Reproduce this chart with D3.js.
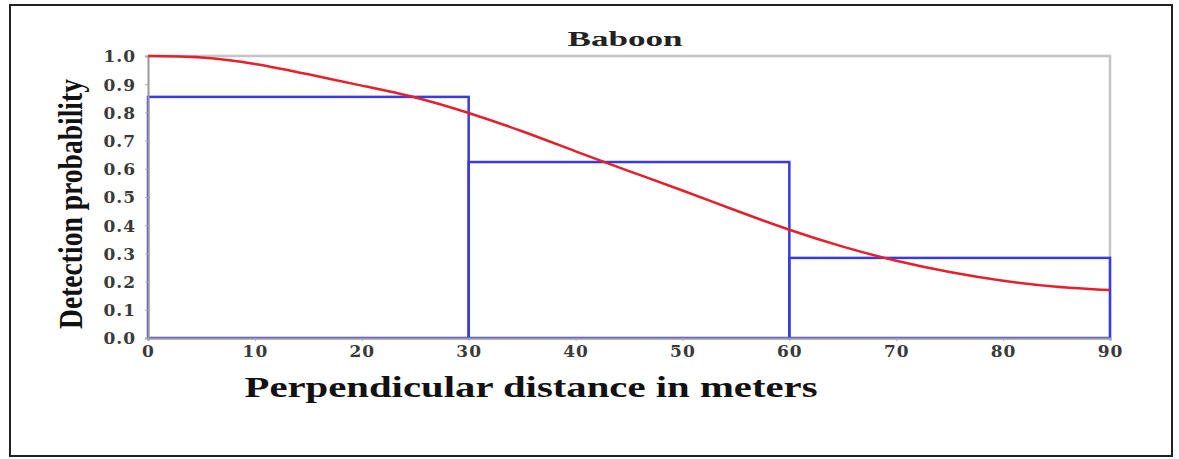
<!DOCTYPE html>
<html>
<head>
    <meta charset="utf-8">
    <style>
        body { margin: 0; background: white; }
        svg { display: block; font-family: "Liberation Serif", "DejaVu Serif", serif; }
        .axis text { font-family: "DejaVu Serif", serif; font-weight: bold; font-size: 17px; letter-spacing: 1px; fill: #3a3a3a; }
    </style>
</head>
<body>
    <svg width="1179" height="459"></svg>
<script src="https://d3js.org/d3.v7.min.js"></script>
<script>
    // histogram of detections (30 m bins)
    let binEdges = [0, 30, 60, 90];
    let binHeights = [0.855, 0.624, 0.284];

    // fitted detection function, read every 5 m
    let curveDist = [0, 5, 10, 15, 20, 25, 30, 35, 40, 45, 50, 55, 60, 65, 70, 75, 80, 85, 90];
    let curveProb = [1.0, 0.995, 0.972, 0.935, 0.895, 0.853, 0.798, 0.733, 0.662, 0.592, 0.523, 0.452, 0.384, 0.324, 0.274, 0.234, 0.203, 0.182, 0.17];

    let xTicks = [0, 10, 20, 30, 40, 50, 60, 70, 80, 90];
    let yTicks = [0, 0.1, 0.2, 0.3, 0.4, 0.5, 0.6, 0.7, 0.8, 0.9, 1.0];

    let plotLeft = 148, plotRight = 1110, plotTop = 56, plotBottom = 338;

    let svg = d3.select("svg");

    // outer frame
    svg.append("rect")
        .attr("x", 10).attr("y", 5)
        .attr("width", 1162).attr("height", 451)
        .attr("fill", "none")
        .attr("stroke", "#222")
        .attr("stroke-width", 2);

    let x = d3.scaleLinear().domain([0, 90]).range([plotLeft, plotRight]);
    let y = d3.scaleLinear().domain([0, 1]).range([plotBottom, plotTop]);

    // top + right border of the plot
    svg.append("path")
        .attr("d", `M${plotLeft},${plotTop}H${plotRight}V${plotBottom}`)
        .attr("fill", "none")
        .attr("stroke", "#c4c4c4")
        .attr("stroke-width", 2.5);

    // histogram bars
    svg.append("g")
        .selectAll("rect")
        .data(binHeights)
        .join("rect")
        .attr("x", (d, i) => x(binEdges[i]))
        .attr("y", d => y(d))
        .attr("width", (d, i) => x(binEdges[i + 1]) - x(binEdges[i]))
        .attr("height", d => y(0) - y(d))
        .attr("fill", "none")
        .attr("stroke", "#3a3ae0")
        .attr("stroke-width", 2.5);

    let xAxis = svg.append("g")
        .attr("class", "axis")
        .attr("transform", `translate(0,${plotBottom})`)
        .call(d3.axisBottom(x).tickValues(xTicks).tickSize(3).tickPadding(4).tickFormat(d3.format("d")));

    let yAxis = svg.append("g")
        .attr("class", "axis")
        .attr("transform", `translate(${plotLeft},0)`)
        .call(d3.axisLeft(y).tickValues(yTicks).tickSize(3).tickPadding(9).tickFormat(d3.format(".1f")));

    svg.selectAll(".axis").attr("font-family", null);
    svg.selectAll(".axis .domain").attr("stroke", "#999").attr("stroke-width", 2);
    svg.selectAll(".axis .tick line").attr("stroke", "#aaa");
    yAxis.selectAll("text").attr("dy", "0.35em");

    // detection curve
    let line = d3.line()
        .x((d, i) => x(curveDist[i]))
        .y(d => y(d))
        .curve(d3.curveNatural);

    svg.append("path")
        .datum(curveProb)
        .attr("d", line)
        .attr("fill", "none")
        .attr("stroke", "#e4202c")
        .attr("stroke-width", 2.5);

    // titles
    svg.append("text")
        .attr("x", 625).attr("y", 46)
        .attr("text-anchor", "middle")
        .attr("font-weight", "bold")
        .attr("font-size", 21)
        .attr("textLength", 115)
        .attr("lengthAdjust", "spacingAndGlyphs")
        .attr("fill", "#222")
        .text("Baboon");

    svg.append("text")
        .attr("x", 531).attr("y", 397)
        .attr("text-anchor", "middle")
        .attr("font-weight", "bold")
        .attr("font-size", 29)
        .attr("textLength", 573)
        .attr("lengthAdjust", "spacingAndGlyphs")
        .attr("fill", "#111")
        .text("Perpendicular distance in meters");

    svg.append("text")
        .attr("transform", "translate(82,204) rotate(-90)")
        .attr("text-anchor", "middle")
        .attr("font-weight", "bold")
        .attr("font-size", 34)
        .attr("textLength", 250)
        .attr("lengthAdjust", "spacingAndGlyphs")
        .attr("fill", "#111")
        .text("Detection probability");
</script>
</body>
</html>
